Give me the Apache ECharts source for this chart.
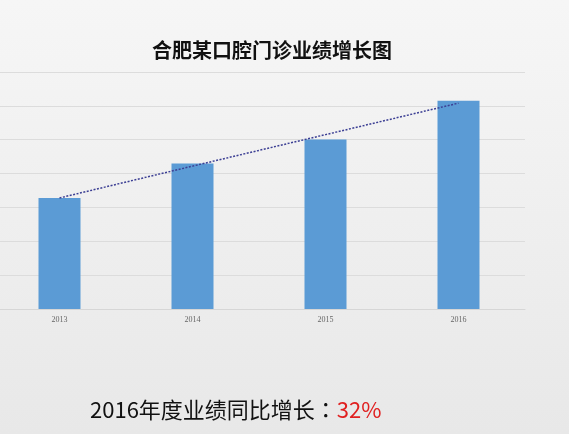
<!DOCTYPE html>
<html>
<head>
<meta charset="utf-8">
<script src="https://cdn.jsdelivr.net/npm/echarts@6/dist/echarts.min.js"></script>
<style>
html,body{margin:0;padding:0;background:#efefef;overflow:hidden;}
#wrap{position:relative;width:569px;height:434px;overflow:hidden;}
#c{position:absolute;left:-7px;top:0;width:576px;height:434px;}
</style>
</head>
<body>
<div id="wrap"><div id="c"></div></div>
<script>
const years = ['2013', '2014', '2015', '2016'];
const performance = [3.28, 4.30, 5.01, 6.15];
const trend = [3.28, 4.22, 5.15, 6.08];
const yTicks = [0, 1, 2, 3, 4, 5, 6, 7];
const titleText = '合肥某口腔门诊业绩增长图';
const noteLabel = '2016年度业绩同比增长';
const noteColon = '：';
const noteValue = '32%';

const OX = 7; // offset of the chart div
const chart = echarts.init(document.getElementById('c'), null, {renderer: 'canvas'});
chart.setOption({
  animation: false,
  backgroundColor: {
    type: 'linear', x: 0, y: 0, x2: 0, y2: 1,
    colorStops: [{offset: 0, color: '#f6f6f6'}, {offset: 1, color: '#e8e8e8'}]
  },
  graphic: [
    {
      type: 'text', left: OX + 152, top: 40,
      style: {
        text: titleText, fill: '#111',
        font: '600 20px "Noto Sans CJK SC"'
      }
    },
    {
      type: 'text', left: OX + 90, top: 399,
      style: {
        text: '{a|' + noteLabel + '}{c|' + noteColon + '}{b|' + noteValue + '}',
        rich: {
          a: {fontSize: 22, fontFamily: '"Noto Sans CJK SC"', fill: '#111'},
          c: {fontSize: 22, fontFamily: '"Noto Sans CJK TC"', fill: '#111'},
          b: {fontSize: 22, fontFamily: '"Noto Sans CJK SC"', fill: '#e02020'}
        }
      }
    }
  ],
  grid: {left: 0, right: 44, top: 72, bottom: 125, containLabel: false},
  xAxis: {
    type: 'category',
    data: years,
    axisTick: {show: false},
    axisLine: {lineStyle: {color: '#d6d6d6', width: 1}},
    axisLabel: {color: '#666', fontSize: 8, fontFamily: '"Liberation Serif"', margin: 7}
  },
  yAxis: {
    type: 'value',
    min: yTicks[0], max: yTicks[yTicks.length - 1], interval: 1,
    axisLabel: {show: false},
    axisLine: {show: false},
    axisTick: {show: false},
    splitLine: {lineStyle: {color: '#dcdcdc', width: 1}}
  },
  series: [
    {
      type: 'bar',
      data: performance,
      barWidth: 42,
      itemStyle: {color: '#5b9bd5'}
    },
    {
      type: 'line',
      data: trend,
      symbol: 'none',
      lineStyle: {color: '#3c3f94', width: 1.5, type: [2, 1.5]},
      z: 5
    }
  ]
});
</script>
</body>
</html>
